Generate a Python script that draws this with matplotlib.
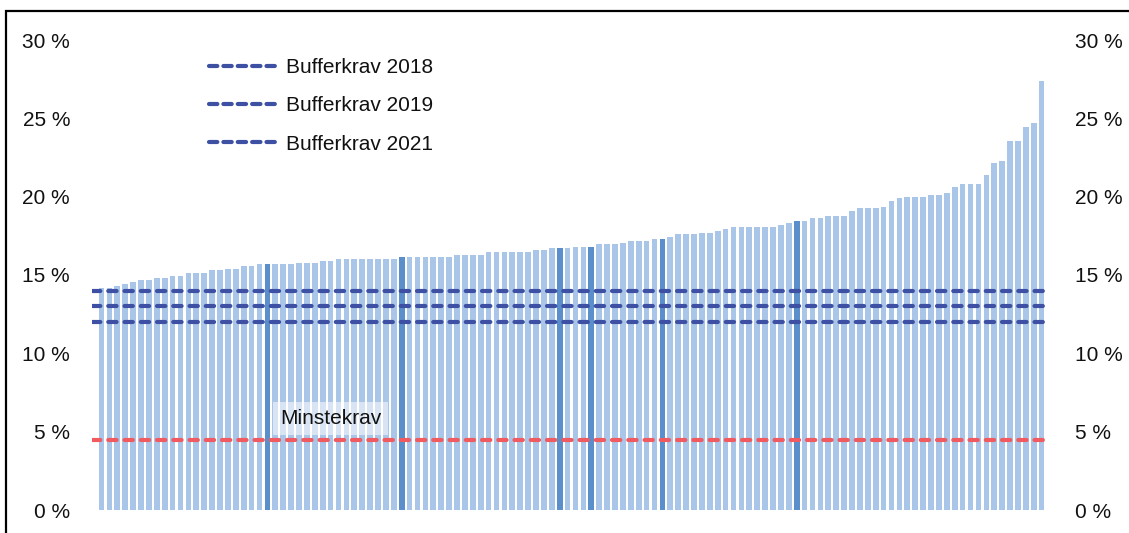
import matplotlib
matplotlib.use("Agg")
import matplotlib.pyplot as plt
from matplotlib.patches import Rectangle
from matplotlib.lines import Line2D
import numpy as np

plt.rcParams['font.family'] = ['Liberation Sans', 'DejaVu Sans']

# ---- data ----
values = ([14.15, 14.2, 14.3, 14.4, 14.55, 14.7, 14.7, 14.8, 14.8, 14.95,
           14.95, 15.15, 15.15, 15.15, 15.3, 15.3, 15.4, 15.4, 15.55, 15.55,
           15.7, 15.7, 15.7, 15.7, 15.7, 15.78, 15.78, 15.78, 15.9, 15.9]
          + [16.05] * 8
          + [16.17] * 7
          + [16.27] * 4
          + [16.44] * 6
          + [16.59, 16.59, 16.7, 16.7, 16.7, 16.8, 16.8, 16.8, 16.95, 16.95,
             16.95, 17.07, 17.19, 17.19, 17.19, 17.29, 17.29, 17.4, 17.59, 17.59,
             17.59, 17.7, 17.7, 17.82, 17.93]
          + [18.08] * 6
          + [18.19, 18.33, 18.44, 18.44, 18.62, 18.62, 18.74, 18.74, 18.74, 19.1,
             19.25, 19.25, 19.25, 19.36, 19.74, 19.89, 20.0, 20.0, 20.0, 20.13,
             20.13, 20.25, 20.61, 20.78, 20.78, 20.78, 21.38, 22.17, 22.3, 23.57,
             23.57, 24.46, 24.72, 27.4])
highlighted = [21, 38, 58, 62, 71, 88]

buffer_labels = ['Bufferkrav 2018', 'Bufferkrav 2019', 'Bufferkrav 2021']
buffer_levels = [12.0, 13.0, 14.0]
min_label = 'Minstekrav'
min_level = 4.5

yticks = [0, 5, 10, 15, 20, 25, 30]
ytick_labels = ['0 %', '5 %', '10 %', '15 %', '20 %', '25 %', '30 %']

# ---- figure ----
W, H = 1129, 533
fig = plt.figure(figsize=(W / 100, H / 100), dpi=100)

left_px, right_px = 92, 1046
bottom_px, top_px = 510, 40
ax = fig.add_axes([left_px / W, 1 - bottom_px / H,
                   (right_px - left_px) / W, (bottom_px - top_px) / H])

n = len(values)
x = np.arange(n)
light = '#A9C5E7'
dark = '#5A8FCB'
colors = [dark if i in highlighted else light for i in range(n)]
ax.bar(x, values, width=0.72, color=colors, zorder=1)

x0, x1 = -1.2, n - 0.45
ax.set_xlim(x0, x1)
ax.set_ylim(0, 30)

blue = '#3D50A4'
red = '#EF5B60'
dash = dict(linewidth=3.0, dash_capstyle='round')
for lvl, lab in zip(buffer_levels, buffer_labels):
    ax.plot([x0, x1], [lvl, lvl], color=blue, label=lab,
            dashes=(2.0, 1.9), zorder=3, **dash)
ax.plot([x0, x1], [min_level, min_level], color=red,
        dashes=(2.0, 1.9), zorder=3, **dash)

ax.text(22.6, 5.85, min_label, fontsize=15, color='#111111', zorder=4,
        ha='left', va='center',
        bbox=dict(boxstyle='square,pad=0.33', facecolor='white', alpha=0.55,
                  edgecolor='none'))

# legend
leg_handles = [Line2D([0], [0], color=blue, linewidth=3.0, dashes=(2.0, 1.45),
                      dash_capstyle='round') for _ in buffer_labels]
leg = fig.legend(leg_handles, buffer_labels, loc='upper left',
                 bbox_to_anchor=(209 / W, 1 - 58 / H), frameon=False,
                 fontsize=15, handlelength=3.4, handletextpad=0.3,
                 labelspacing=0.93, borderpad=0, borderaxespad=0)
for t in leg.get_texts():
    t.set_color('#111111')

for s in ax.spines.values():
    s.set_visible(False)
ax.set_xticks([])
ax.set_yticks(yticks)
ax.set_yticklabels(ytick_labels)
ax.tick_params(axis='y', length=0, pad=15.8, labelsize=15, labelcolor='#111111')

ax2 = ax.twinx()
ax2.set_ylim(0, 30)
ax2.set_yticks(yticks)
ax2.set_yticklabels(ytick_labels)
for s in ax2.spines.values():
    s.set_visible(False)
ax2.tick_params(axis='y', length=0, pad=21, labelsize=15, labelcolor='#111111')

# outer frame
fig.patches.append(Rectangle((6 / W, -0.05), 1.2, 1 - 11 / H + 0.05,
                             transform=fig.transFigure, fill=False,
                             edgecolor='black', linewidth=1.6))

fig.savefig('out.png', dpi=100)
